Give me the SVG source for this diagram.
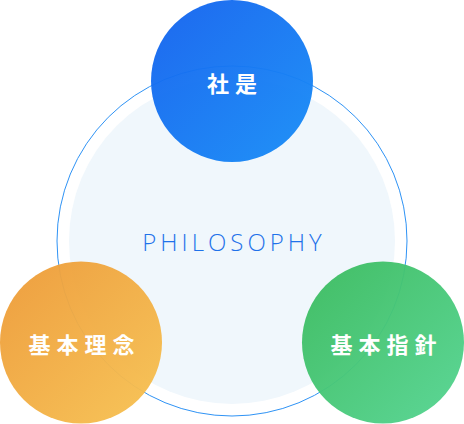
<svg xmlns="http://www.w3.org/2000/svg" width="464" height="424" viewBox="0 0 464 424">
<defs>
<linearGradient id="gBlue" x1="0" y1="0" x2="1" y2="1"><stop offset="0" stop-color="#1462ee"/><stop offset="1" stop-color="#188ef7"/></linearGradient>
<linearGradient id="gOrange" x1="0" y1="0" x2="1" y2="1"><stop offset="0" stop-color="#ed9a38"/><stop offset="1" stop-color="#f7c353"/></linearGradient>
<linearGradient id="gGreen" x1="0" y1="0" x2="1" y2="1"><stop offset="0" stop-color="#3bbb5e"/><stop offset="1" stop-color="#56d593"/></linearGradient>
<style>
.bubble{opacity:0.96}
.lbl{font-family:"Noto Sans CJK JP","Noto Sans CJK SC",sans-serif;font-size:22px;font-weight:700;fill:#ffffff;text-anchor:middle;dominant-baseline:central;letter-spacing:6px}
.phil{font-family:"Open Sans","Noto Sans",sans-serif;font-size:24px;font-weight:300;fill:#1f72ea;text-anchor:middle;dominant-baseline:central;letter-spacing:4px}
</style>
</defs>
<g id="philosophy">
<circle cx="232" cy="241" r="163" fill="#f0f7fc"/>
<circle cx="232" cy="241" r="175" fill="none" stroke="#2f93f5" stroke-width="1"/>
<text class="phil" x="234" y="241">PHILOSOPHY</text>
</g>
<g id="connectors"></g>
<g id="shaze">
<circle class="bubble" cx="232" cy="81" r="81" fill="url(#gBlue)"/>
<text class="lbl" x="235" y="82">社是</text>
</g>
<g id="kihon-rinen">
<circle class="bubble" cx="81" cy="342.5" r="81" fill="url(#gOrange)"/>
<text class="lbl" x="84.5" y="343">基本理念</text>
</g>
<g id="kihon-shishin">
<circle class="bubble" cx="383" cy="342.5" r="81" fill="url(#gGreen)"/>
<text class="lbl" x="386.5" y="343">基本指針</text>
</g>
</svg>
